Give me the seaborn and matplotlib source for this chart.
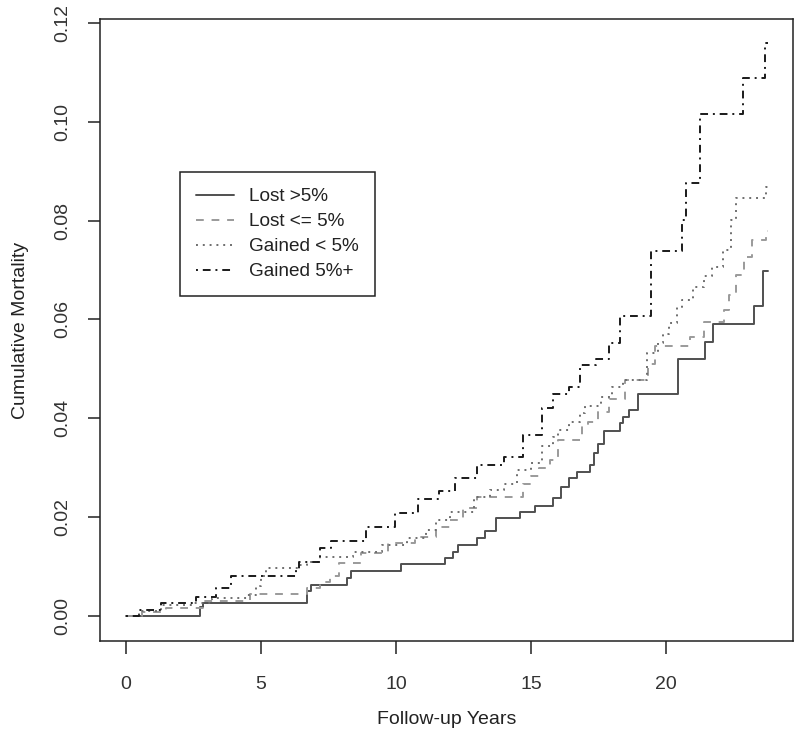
import pandas as pd
import matplotlib
matplotlib.use("Agg")
import matplotlib.pyplot as plt
import seaborn as sns

# Step points (time, cumulative mortality)
lost_big_t = [0, 2.74, 2.85, 6.7, 6.85, 8.2, 8.35, 10.2, 11.8, 12.1, 12.3, 13.0, 13.3,
              13.7, 14.6, 15.15, 15.8, 16.1, 16.4, 16.7, 17.2, 17.33, 17.5, 17.7, 18.3,
              18.4, 18.64, 18.97, 20.46, 21.44, 21.73, 23.26, 23.6, 23.78]
lost_big_y = [0, 0.0019, 0.0026, 0.0051, 0.0063, 0.0077, 0.0092, 0.0105, 0.0117, 0.013,
              0.0144, 0.0157, 0.0171, 0.0198, 0.0211, 0.0223, 0.0238, 0.0262, 0.0279,
              0.0292, 0.0306, 0.0329, 0.0348, 0.0375, 0.039, 0.0403, 0.0417, 0.045,
              0.0521, 0.0555, 0.0591, 0.0627, 0.0699, 0.0699]

lost_small_t = [0, 0.6, 1.5, 2.9, 4.6, 6.7, 7.2, 7.55, 7.9, 8.7, 9.7, 10.7, 11.5, 12.0,
                12.5, 13.0, 14.7, 15.0, 15.3, 15.7, 16.0, 16.9, 17.1, 17.5, 17.9, 18.5,
                19.35, 19.6, 20.9, 21.4, 22.15, 22.35, 22.6, 22.9, 23.2, 23.7, 23.78]
lost_small_y = [0, 0.0008, 0.0017, 0.0031, 0.0045, 0.0056, 0.0069, 0.008, 0.0108, 0.0127,
                0.0147, 0.016, 0.018, 0.0194, 0.0218, 0.0241, 0.0268, 0.0283, 0.0299,
                0.0316, 0.0356, 0.0385, 0.0393, 0.0413, 0.044, 0.0478, 0.051, 0.0546,
                0.0565, 0.0595, 0.0619, 0.065, 0.069, 0.0727, 0.076, 0.078, 0.078]

gained_small_t = [0, 0.5, 1.3, 2.5, 3.2, 4.5, 4.8, 5.0, 5.2, 6.4, 6.7, 7.2, 8.4, 9.5,
                  10.4, 11.1, 11.5, 12.0, 12.9, 13.5, 14.0, 14.5, 15.0, 15.4, 15.8, 16.0,
                  16.4, 16.8, 17.0, 17.6, 18.0, 18.4, 19.3, 19.7, 19.9, 20.1, 20.4, 20.6,
                  21.0, 21.4, 21.7, 22.1, 22.4, 22.6, 23.7, 23.78]
gained_small_y = [0, 0.0011, 0.0022, 0.0027, 0.0036, 0.0042, 0.006, 0.008, 0.0098, 0.0103,
                  0.011, 0.012, 0.013, 0.0144, 0.0157, 0.0175, 0.0195, 0.0211, 0.0241,
                  0.0255, 0.0268, 0.0295, 0.031, 0.0343, 0.0362, 0.0376, 0.0393, 0.041,
                  0.0424, 0.0444, 0.0464, 0.0478, 0.0532, 0.0552, 0.057, 0.0592, 0.0626,
                  0.064, 0.0666, 0.0687, 0.0707, 0.074, 0.0801, 0.0845, 0.0869, 0.0869]

gained_big_t = [0, 0.5, 1.3, 2.6, 3.35, 3.9, 6.3, 6.4, 7.2, 7.6, 8.9, 9.96, 10.8, 11.6,
                12.2, 13.0, 14.0, 14.7, 15.4, 15.8, 16.4, 16.8, 17.4, 17.9, 18.3, 19.45,
                20.6, 20.75, 21.25, 22.86, 23.67, 23.78]
gained_big_y = [0, 0.0012, 0.0027, 0.0039, 0.0056, 0.008, 0.0093, 0.011, 0.0137, 0.0152,
                0.0181, 0.0208, 0.0236, 0.0253, 0.0279, 0.0306, 0.0322, 0.0366, 0.042,
                0.0449, 0.0464, 0.0508, 0.052, 0.0552, 0.0607, 0.0739, 0.0801, 0.0876,
                0.1015, 0.1089, 0.116, 0.116]

groups = ["Lost >5%", "Lost <= 5%", "Gained < 5%", "Gained 5%+"]
colors = {"Lost >5%": "#505050", "Lost <= 5%": "#9a9a9a",
          "Gained < 5%": "#6e6e6e", "Gained 5%+": "#1a1a1a"}
dashes = {"Lost >5%": "", "Lost <= 5%": (4, 4),
          "Gained < 5%": (1, 2.5), "Gained 5%+": (1, 2.5, 4, 2.5)}

frames = []
for name, t, y in zip(groups,
                      [lost_big_t, lost_small_t, gained_small_t, gained_big_t],
                      [lost_big_y, lost_small_y, gained_small_y, gained_big_y]):
    frames.append(pd.DataFrame({"years": t, "mortality": y, "group": name}))
df = pd.concat(frames, ignore_index=True)

sns.set_theme(style="ticks")
plt.rcParams["font.family"] = ["Liberation Sans", "DejaVu Sans"]

fig = plt.figure(figsize=(8, 7.4), dpi=100)
ax = fig.add_axes([0.125, 1 - 641 / 740, 0.866, 622 / 740])

sns.lineplot(data=df, x="years", y="mortality", hue="group", style="group",
             hue_order=groups, style_order=groups, palette=colors, dashes=dashes,
             drawstyle="steps-post", estimator=None, sort=False, linewidth=1.4,
             legend=False, ax=ax)

ax.set_xlim(-0.963, 24.70)
ax.set_ylim(-0.00506, 0.1208)
ax.set_xticks([0, 5, 10, 15, 20])
ax.set_yticks([0.00, 0.02, 0.04, 0.06, 0.08, 0.10, 0.12])
ax.set_yticklabels(["0.00", "0.02", "0.04", "0.06", "0.08", "0.10", "0.12"])

for s in ax.spines.values():
    s.set_visible(True)
    s.set_color("#222222")
    s.set_linewidth(1.1)
ax.tick_params(axis="both", direction="out", length=9, width=1.1, color="#222222",
               labelsize=14, labelcolor="#333333")
ax.tick_params(axis="x", pad=16)
ax.tick_params(axis="y", pad=12, labelrotation=90)
for lab in ax.get_yticklabels():
    lab.set_va("center")

ax.set_xlabel("Follow-up Years", fontsize=14, color="#222222", va="center")
ax.set_ylabel("Cumulative Mortality", fontsize=14, color="#222222", va="center")
ax.xaxis.set_label_coords(0.5, (641 - 720) / 622)
ax.yaxis.set_label_coords((20 - 100) / 693, 0.5)

handles = ax.get_lines()[:4]
leg = ax.legend(handles, groups, loc="upper left", bbox_to_anchor=(80 / 693, 469 / 622),
                borderaxespad=0, fontsize=13.7, frameon=True, fancybox=False,
                framealpha=1, edgecolor="#222222", handlelength=2.0,
                handletextpad=0.8, labelspacing=0.4, borderpad=0.85)
leg.get_frame().set_linewidth(1.1)
for txt in leg.get_texts():
    txt.set_color("#222222")

fig.savefig("out.png", dpi=100, facecolor="white")
